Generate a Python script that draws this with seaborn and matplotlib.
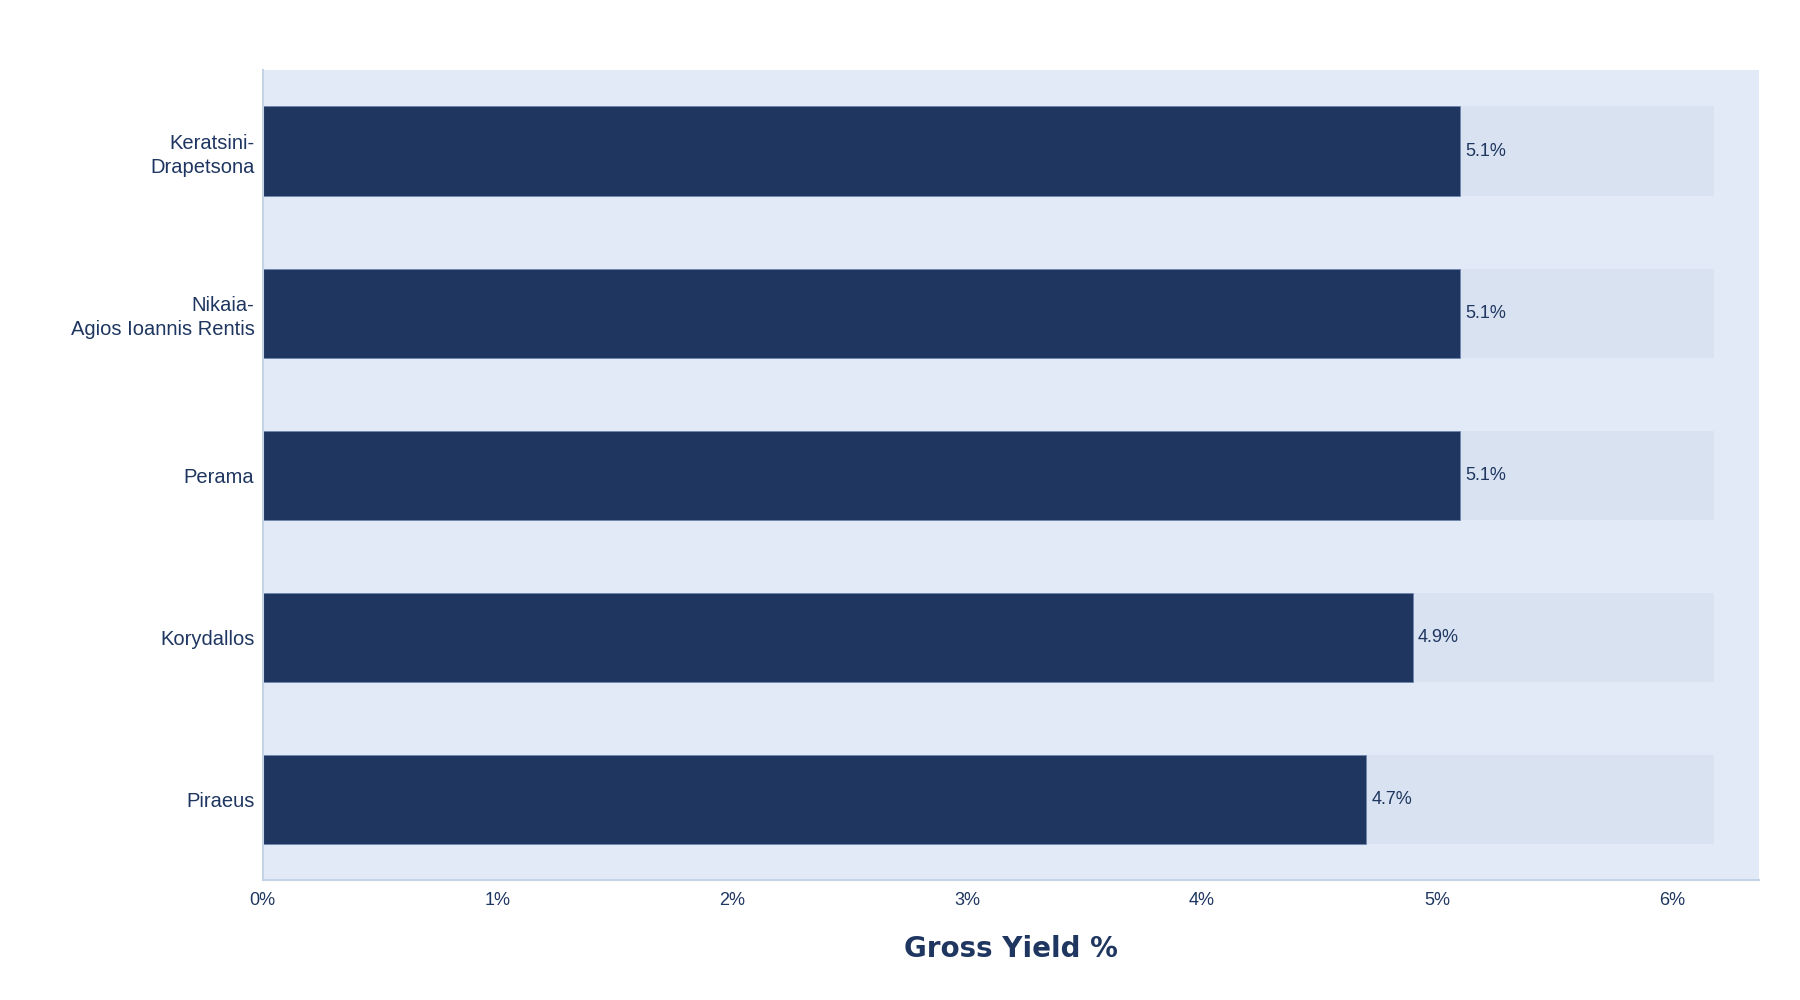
import matplotlib
matplotlib.use("Agg")
import matplotlib.pyplot as plt
import seaborn as sns
import pandas as pd

areas = ["Keratsini-\nDrapetsona", "Nikaia-\nAgios Ioannis Rentis", "Perama", "Korydallos", "Piraeus"]
yields = [5.1, 5.1, 5.1, 4.9, 4.7]
track_max = 6.18
x_ticks = [0, 1, 2, 3, 4, 5, 6]
x_title = "Gross Yield %"

NAVY = "#1E3660"
TRACK = "#D9E2F1"
PLOT_BG = "#E3EAF7"
AXIS = "#C5D3E6"

sns.set_theme(style="white")
plt.rcParams["font.family"] = ["Liberation Sans", "DejaVu Sans"]

df = pd.DataFrame({"area": areas, "yield": yields, "track": [track_max] * len(areas)})

fig = plt.figure(figsize=(18, 10), dpi=100)
ax = fig.add_axes([0.146, 0.1196, 0.831, 0.8104])
ax.set_facecolor(PLOT_BG)

sns.barplot(data=df, y="area", x="track", orient="h", color=TRACK, width=0.55,
            saturation=1, ax=ax, linewidth=0)
sns.barplot(data=df, y="area", x="yield", orient="h", color=NAVY, width=0.55,
            saturation=1, ax=ax, edgecolor="#6F86AD", linewidth=0.6)

for i, v in enumerate(yields):
    ax.text(v + 0.02, i, f"{v:.1f}%", va="center", ha="left", fontsize=13, color=NAVY)

ax.set_xlim(0, 6.37)
ax.set_ylim(4.5, -0.5)
ax.set_xticks(x_ticks)
ax.set_xticklabels([f"{t}%" for t in x_ticks], fontsize=13, color=NAVY)
ax.tick_params(axis="x", length=0, pad=8)
ax.tick_params(axis="y", length=0, pad=6, labelsize=14.5, labelcolor=NAVY)
for lbl in ax.get_yticklabels():
    lbl.set_multialignment("right")
    lbl.set_linespacing(1.35)

ax.set_ylabel("")
ax.set_xlabel(x_title, fontsize=20, fontweight="bold", color=NAVY, labelpad=19,
              family=["DejaVu Sans"])

for s in ["top", "right"]:
    ax.spines[s].set_visible(False)
for s in ["left", "bottom"]:
    ax.spines[s].set_color(AXIS)
    ax.spines[s].set_linewidth(1.5)

fig.savefig("out.png", dpi=100, facecolor="white")
